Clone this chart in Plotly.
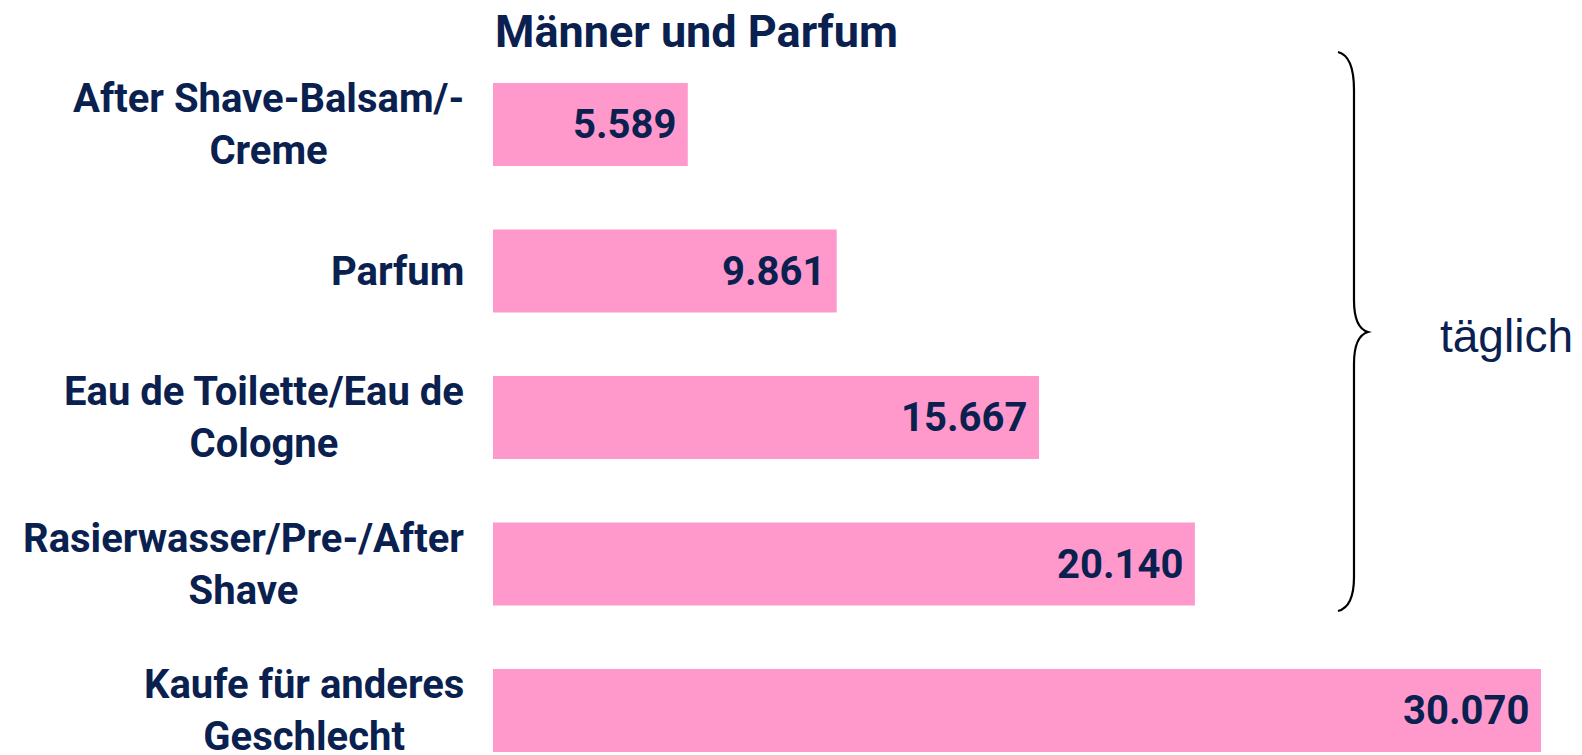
import plotly.graph_objects as go

categories = [
    "After Shave-Balsam/-<br>Creme",
    "Parfum",
    "Eau de Toilette/Eau de<br>Cologne",
    "Rasierwasser/Pre-/After<br>Shave",
    "Kaufe für anderes<br>Geschlecht",
]
values = [5589, 9861, 15667, 20140, 30070]
title_text = "Männer und Parfum"
brace_label = "täglich"

NAVY = "#0A2150"
PINK = "#FF99CC"
W, H = 1582, 755
L, R = 493, 41
plot_w = W - L - R

def px(x, y):
    return (x - L) / plot_w, 1 - y / H

def fmt(v):
    return f"{v:,}".replace(",", ".")

fig = go.Figure()
fig.add_trace(go.Bar(
    x=values, y=list(range(len(categories))), orientation="h",
    marker=dict(color=PINK, line=dict(width=0)),
    hoverinfo="skip",
))

annotations = []
for i, (c, v) in enumerate(zip(categories, values)):
    annotations.append(dict(
        x=0, xref="paper", y=i, yref="y", text=f"<b>{c}</b>",
        xanchor="right", yanchor="middle", align="center", xshift=-27,
        showarrow=False, font=dict(family="Roboto", size=40, color=NAVY),
    ))
    annotations.append(dict(
        x=v, xref="x", y=i, yref="y", text=f"<b>{fmt(v)}</b>",
        xanchor="right", yanchor="middle", xshift=-10,
        showarrow=False, font=dict(family="Roboto", size=40, color=NAVY),
    ))

tx, ty = px(493, 31)
annotations.append(dict(
    x=tx, y=ty, xref="paper", yref="paper", text=f"<b>{title_text}</b>",
    xanchor="left", yanchor="middle", showarrow=False,
    font=dict(family="Roboto", size=45, color=NAVY),
))
lx, ly = px(1438, 336)
annotations.append(dict(
    x=lx, y=ly, xref="paper", yref="paper", text=brace_label,
    xanchor="left", yanchor="middle", showarrow=False,
    font=dict(family="Liberation Sans", size=46, color=NAVY),
))

pts = [("M", [(1338, 52)]), ("Q", [(1354, 56), (1354, 90)]), ("L", [(1354, 300)]),
       ("Q", [(1354, 328), (1368, 332)]), ("Q", [(1354, 336), (1354, 364)]),
       ("L", [(1354, 577)]), ("Q", [(1354, 607), (1338, 611)])]
path = ""
for cmd, coords in pts:
    path += cmd + " " + " ".join(f"{px(a, b)[0]:.5f},{px(a, b)[1]:.5f}" for a, b in coords) + " "

fig.update_layout(
    width=W, height=H,
    margin=dict(l=L, r=R, t=0, b=0),
    paper_bgcolor="white", plot_bgcolor="white",
    showlegend=False,
    bargap=1 - 83 / 146.5,
    xaxis=dict(range=[0, values[-1]], visible=False, fixedrange=True),
    yaxis=dict(range=[(755 - 124.5) / 146.5, -124.5 / 146.5], visible=False, fixedrange=True),
    annotations=annotations,
    shapes=[dict(type="path", path=path.strip(), xref="paper", yref="paper",
                 line=dict(color="black", width=2.2))],
)

fig.write_html("out.html", config={"displayModeBar": False},
               post_script="document.body.style.margin='0';")
